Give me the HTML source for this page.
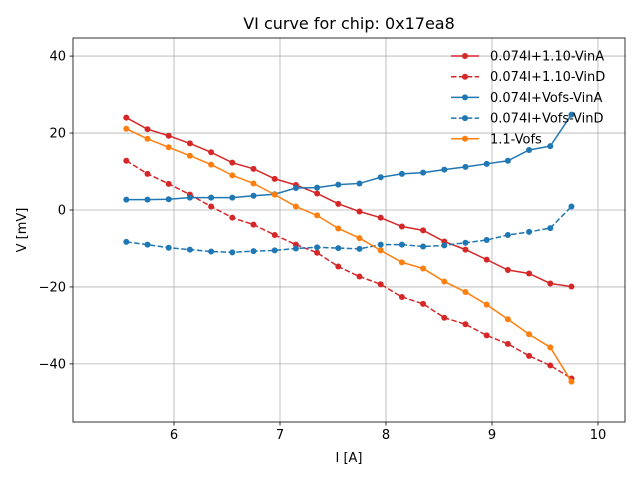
<!DOCTYPE html>
<html><head><meta charset="utf-8"><style>body{margin:0;background:#fff}svg{display:block}text{font-family:"DejaVu Sans","Liberation Sans",sans-serif}</style></head>
<body>
<svg id="chart" width="640" height="480">
<rect x="0" y="0" width="640" height="480" fill="#fff"/>
<g id="grid"></g>
<g id="series"></g>
<rect x="73" y="38" width="552" height="384" fill="none" stroke="#000" stroke-width="0.8"/>
<g id="axes"></g>
<text x="349" y="29" text-anchor="middle" font-size="16">VI curve for chip: 0x17ea8</text>
<text x="349" y="462" text-anchor="middle" font-size="13">I [A]</text>
<text x="26" y="230" text-anchor="middle" font-size="13" transform="rotate(-90 26 230)">V [mV]</text>
<g id="legend"></g>
</svg>
<script>
const currents = [5.55,5.75,5.95,6.15,6.35,6.55,6.75,6.95,7.15,7.35,7.55,7.75,7.95,8.15,8.35,8.55,8.75,8.95,9.15,9.35,9.55,9.75];
const vinA110 = [24,21,19.3,17.3,15,12.3,10.7,8.1,6.5,4.3,1.6,-0.4,-2,-4.3,-5.3,-8.2,-10.3,-12.9,-15.6,-16.5,-19.1,-19.9];
const vinD110 = [12.8,9.4,6.8,4,0.9,-2,-3.8,-6.5,-9,-11.1,-14.7,-17.3,-19.3,-22.6,-24.4,-28,-29.7,-32.6,-34.8,-37.9,-40.4,-43.8];
const vinAVofs = [2.7,2.7,2.8,3.2,3.2,3.2,3.7,4.1,5.7,5.8,6.6,6.9,8.5,9.4,9.7,10.5,11.2,12,12.8,15.6,16.6,24.8];
const vinDVofs = [-8.3,-9,-9.8,-10.3,-10.8,-11,-10.7,-10.5,-10,-9.7,-9.9,-10.1,-9,-9,-9.5,-9.2,-8.5,-7.8,-6.5,-5.7,-4.7,0.9];
const vofs11 = [21.1,18.5,16.3,14.1,11.8,9,6.9,4,0.9,-1.4,-4.8,-7.3,-10.5,-13.6,-15.2,-18.6,-21.3,-24.6,-28.4,-32.3,-35.7,-44.6];
const xTicks = [6,7,8,9,10];
const yTicks = [40,20,0,-20,-40];
const seriesNames = ["0.074I+1.10-VinA","0.074I+1.10-VinD","0.074I+Vofs-VinA","0.074I+Vofs-VinD","1.1-Vofs"];

const X0=73,X1=625,Y0=38,Y1=422, xMin=5.047,xMax=10.255,yMin=-55.1,yMax=44.7;
const sx=v=>X0+(v-xMin)/(xMax-xMin)*(X1-X0);
const sy=v=>Y1-(v-yMin)/(yMax-yMin)*(Y1-Y0);
const NS="http://www.w3.org/2000/svg";
function mk(tag,attrs,parent){const e=document.createElementNS(NS,tag);for(const k in attrs)e.setAttribute(k,attrs[k]);parent.appendChild(e);return e;}
const grid=document.getElementById('grid'),axes=document.getElementById('axes'),ser=document.getElementById('series'),leg=document.getElementById('legend');
xTicks.forEach(t=>{const x=sx(t);
 let g=mk('line',{x1:x,x2:x,y1:Y0,y2:Y1,stroke:'#b0b0b0','stroke-width':0.8},grid);
 
 let k=mk('line',{x1:x,x2:x,y1:Y1,y2:Y1+3.5,stroke:'#000','stroke-width':0.8},axes);
 
 let l=mk('text',{x:x,y:Y1+17,'text-anchor':'middle','font-size':13},axes);l.textContent=t;
 });
yTicks.forEach(t=>{const y=sy(t);
 let g=mk('line',{x1:X0,x2:X1,y1:y,y2:y,stroke:'#b0b0b0','stroke-width':0.8},grid);
 
 let k=mk('line',{x1:X0-3.5,x2:X0,y1:y,y2:y,stroke:'#000','stroke-width':0.8},axes);
 
 let l=mk('text',{x:X0-7,y:y+4.5,'text-anchor':'end','font-size':13},axes);l.textContent=(t<0?'\u2212'+(-t):t);
 });
const defs=[[vinA110,'#d62728',false],[vinD110,'#d62728',true],[vinAVofs,'#1f77b4',false],[vinDVofs,'#1f77b4',true],[vofs11,'#ff7f0e',false]];
defs.forEach((d,i)=>{const [vals,c,dash]=d;
 const g=mk('g',{},ser);
 
 const p=mk('polyline',{points:vals.map((v,j)=>sx(currents[j])+','+sy(v)).join(' '),fill:'none',stroke:c,'stroke-width':1.5,'stroke-dasharray':dash?'5.5,2.4':'none'},g);
 
 vals.forEach((v,j)=>{const m=mk('circle',{cx:sx(currents[j]),cy:sy(v),r:3,fill:c},g);
  });
 const ly=56+i*20.7;
 const lg=mk('g',{},leg);
 
 mk('line',{x1:451,x2:479,y1:ly,y2:ly,stroke:c,'stroke-width':1.5,'stroke-dasharray':dash?'5.5,2.4':'none'},lg);
 mk('circle',{cx:465,cy:ly,r:3,fill:c},lg);
 const t=mk('text',{x:490,y:ly+4.5,'font-size':13},lg);t.textContent=seriesNames[i];
});
</script>
</body></html>
